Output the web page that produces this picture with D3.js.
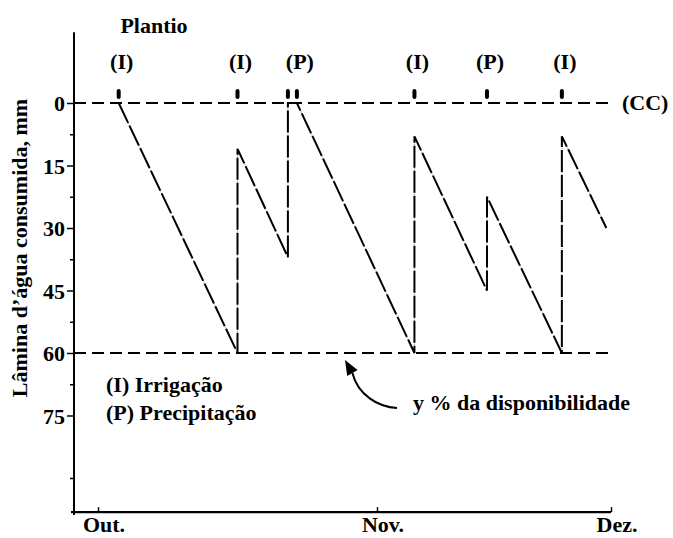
<!DOCTYPE html>
<html>
<head>
<meta charset="utf-8">
<script src="https://cdn.jsdelivr.net/npm/d3@7"></script>
<style>
  html, body { margin: 0; padding: 0; background: #fff; }
  svg { display: block; }
  svg text { font-family: "Liberation Serif", "Times New Roman", Times, "DejaVu Serif", serif; font-weight: bold; fill: #000; }
</style>
</head>
<body>
<script>
// ---- data ----
const days = [2.3, 15.5, 15.5, 21.1, 21.1, 22.1, 35.8, 35.8, 45.1, 45.1, 54.7, 54.7, 60.4];
const depletion = [0, 60, 11, 37, 0, 0, 60, 8, 45, 22.5, 60, 8, 30];
const eventDays = [2.3, 15.5, 21.1, 22.1, 35.8, 45.1, 54.7];
const labelDays = [2.3, 15.5, 22.1, 35.8, 45.1, 54.7];
const eventLabels = ["(I)", "(I)", "(P)", "(I)", "(P)", "(I)"];
const monthDays = [0, 31, 61];
const monthLabels = ["Out.", "Nov.", "Dez."];
const yMajorTicks = [0, 15, 30, 45, 60, 75];
const yMinorTicks = [7.5, 22.5, 37.5, 52.5, 67.5, 90];
const fieldCapacity = 0;   // (CC)
const allowedDepletion = 60; // y % da disponibilidade

const W = 673, H = 538;
const svg = d3.select("body").append("svg").attr("width", W).attr("height", H);

const x = d3.scaleLinear().domain([0, 31, 61]).range([98, 377, 611]);
const y = d3.scaleLinear().domain([0, 60]).range([103, 353]);

const axisX = 74;
const fs = 22;

// y axis
svg.append("line").attr("x1", axisX).attr("x2", axisX)
  .attr("y1", y(-17)).attr("y2", y(98.9))
  .attr("stroke", "#000").attr("stroke-width", 2);

const yAxisMajor = d3.axisLeft(y).tickValues(yMajorTicks).tickSize(7).tickPadding(2).tickFormat(d3.format("d"));
const gy = svg.append("g").attr("transform", `translate(${axisX},0)`).call(yAxisMajor);
gy.attr("font-family", null).attr("font-size", null);
gy.select(".domain").remove();
gy.selectAll(".tick line").attr("stroke", "#000").attr("stroke-width", 1.5);
gy.selectAll(".tick text").attr("font-size", fs).attr("fill", "#000").attr("dy", "0.35em");

const yAxisMinor = d3.axisLeft(y).tickValues(yMinorTicks).tickSize(4).tickFormat("");
const gy2 = svg.append("g").attr("transform", `translate(${axisX},0)`).call(yAxisMinor);
gy2.select(".domain").remove();
gy2.selectAll(".tick line").attr("stroke", "#000").attr("stroke-width", 1.5);

// x axis
const axisY = y(98.2);
svg.append("line").attr("x1", x(-3)).attr("x2", x(61))
  .attr("y1", axisY).attr("y2", axisY)
  .attr("stroke", "#000").attr("stroke-width", 2.2);
const xAxis = d3.axisTop(x).tickValues(monthDays).tickSize(5).tickFormat("");
const gx = svg.append("g").attr("transform", `translate(0,${axisY})`).call(xAxis);
gx.select(".domain").remove();
gx.selectAll(".tick line").attr("stroke", "#000").attr("stroke-width", 1.5);
svg.selectAll(".mlab").data(monthDays).join("text")
  .attr("class", "mlab")
  .attr("x", (d) => x(d) + 6).attr("y", 532)
  .attr("text-anchor", "middle").attr("font-size", fs)
  .text((d, i) => monthLabels[i]);

// reference lines
[fieldCapacity, allowedDepletion].forEach(v => {
  svg.append("line").attr("x1", axisX).attr("x2", 610)
    .attr("y1", y(v)).attr("y2", y(v))
    .attr("stroke", "#000").attr("stroke-width", 2)
    .attr("stroke-dasharray", "12,6");
});

// depletion line
const pts = days.map((d, i) => [x(d), y(depletion[i])]);
const line = d3.line();
svg.append("path").attr("d", line(pts)).attr("fill", "none")
  .attr("stroke", "#999").attr("stroke-width", 1).attr("stroke-dasharray", "1,1");
svg.append("path").attr("d", line(pts)).attr("fill", "none")
  .attr("stroke", "#000").attr("stroke-width", 2).attr("stroke-dasharray", "22,3");

// event markers
svg.selectAll(".ev").data(eventDays).join("rect")
  .attr("class", "ev")
  .attr("x", d => x(d) - 2).attr("y", 89)
  .attr("width", 4).attr("height", 10).attr("rx", 2)
  .attr("fill", "#000");

svg.selectAll(".evl").data(labelDays).join("text")
  .attr("class", "evl")
  .attr("x", d => x(d) + 3).attr("y", 69)
  .attr("text-anchor", "middle").attr("font-size", fs)
  .text((d, i) => eventLabels[i]);

// annotations
svg.append("text").attr("x", 154).attr("y", 33).attr("text-anchor", "middle")
  .attr("font-size", fs).text("Plantio");
svg.append("text").attr("x", 622).attr("y", 110).attr("font-size", fs).text("(CC)");
svg.append("text").attr("x", 413).attr("y", 410).attr("font-size", fs).text("y % da disponibilidade");
svg.append("text").attr("x", 106).attr("y", 392).attr("font-size", fs).text("(I) Irrigação");
svg.append("text").attr("x", 106).attr("y", 420).attr("font-size", fs).text("(P) Precipitação");

// y label
svg.append("text")
  .attr("transform", "translate(27,248) rotate(-90)")
  .attr("text-anchor", "middle").attr("font-size", fs)
  .text("Lâmina d’água consumida, mm");

// arrow
svg.append("path").attr("d", "M397,408 C378,407 358,395 352.4,373")
  .attr("fill", "none").attr("stroke", "#000").attr("stroke-width", 2);
svg.append("path").attr("d", "M345,360 L357.6,370.1 L347.2,375.9 Z").attr("fill", "#000");
</script>
</body>
</html>
